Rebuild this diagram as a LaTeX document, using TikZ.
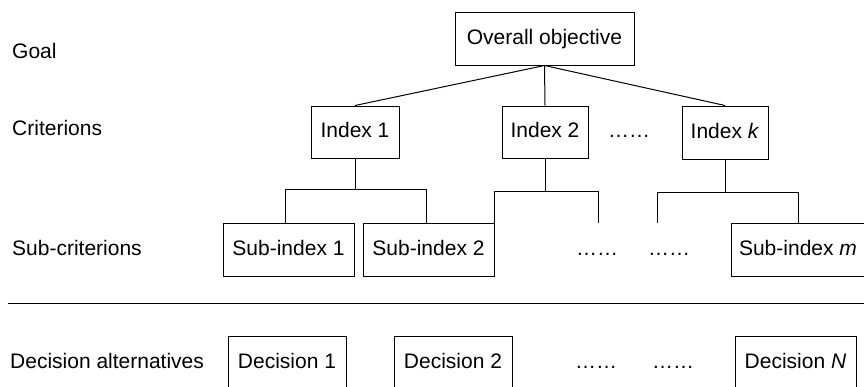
\documentclass[tikz,border=0pt]{standalone}
\usepackage{fontspec}
\setmainfont{Liberation Sans}
\begin{document}
\begin{tikzpicture}[x=1pt,y=-1pt,
  every node/.style={font=\fontsize{21}{24}\selectfont, inner sep=0pt, text height=15pt, text depth=4pt},
  box/.style={draw, line width=1pt, anchor=center},
  lbl/.style={anchor=west},
  conn/.style={line width=1pt},
  dots/.style={anchor=center}]
\useasboundingbox (0,0) rectangle (864,386);
% row labels
\node[lbl] (lgoal) at (12,53) {Goal};
\node[lbl] (lcrit) at (12,130) {Criterions};
\node[lbl] (lsub) at (12,250) {Sub-criterions};
\node[lbl] (ldec) at (10,363) {Decision alternatives};
% goal
\node[box, minimum width=179pt, minimum height=53pt] (obj) at (544.5,38.5) {Overall objective};
% criteria
\node[box, minimum width=88pt, minimum height=52pt] (i1) at (355,132) {Index 1};
\node[box, minimum width=86pt, minimum height=52pt] (i2) at (545,132) {Index 2};
\node[box, minimum width=86pt, minimum height=53pt] (ik) at (725,132.5) {Index \textit{k}};
\node[dots] (cdots) at (629,132) {……};
% sub-criteria
\node[box, minimum width=131pt, minimum height=53pt] (s1) at (288.5,249.5) {Sub-index 1};
\node[box, minimum width=131pt, minimum height=53pt] (s2) at (428.5,249.5) {Sub-index 2};
\node[box, minimum width=134pt, minimum height=53pt] (sm) at (798,250) {Sub-index \textit{m}};
\node[dots] (sd1) at (597,250) {……};
\node[dots] (sd2) at (669,250) {……};
% separator
\coordinate (sepL) at (8,303);
\coordinate (sepR) at (864,303);
\draw[conn] (sepL) -- (sepR);
% decisions
\node[box, minimum width=118pt, minimum height=58pt] (d1) at (287,365) {};
\node[box, minimum width=118pt, minimum height=58pt] (d2) at (453,365) {};
\node[box, minimum width=121pt, minimum height=58pt] (dn) at (795.5,365) {};
\node (d1t) at (287,363) {Decision 1};
\node (d2t) at (453,363) {Decision 2};
\node (dnt) at (795.5,363) {Decision \textit{N}};
\node[dots] (dd1) at (596,363) {……};
\node[dots] (dd2) at (673,363) {……};
% connectors goal -> criteria
\draw[conn] (obj.south) -- (i1.north);
\draw[conn] (obj.south) -- (i2.north);
\draw[conn] (obj.south) -- (ik.north);
% Index 1 tree
\draw[conn] (i1.south) -- (355,189);
\draw[conn] (s1.north -| 285,0) |- (426,189) -- (s2.north -| 426,0);
% Index 2 tree
\coordinate (i2r) at (598,223);
\draw[conn] (i2.south) -- (545,191);
\draw[conn] (s2.north east) |- (598,191) -- (i2r);
% Index k tree
\coordinate (ikl) at (657,223);
\draw[conn] (ik.south) -- (725,192);
\draw[conn] (ikl) |- (sm.north |- 0,192) -- (sm.north);
\end{tikzpicture}
\end{document}
